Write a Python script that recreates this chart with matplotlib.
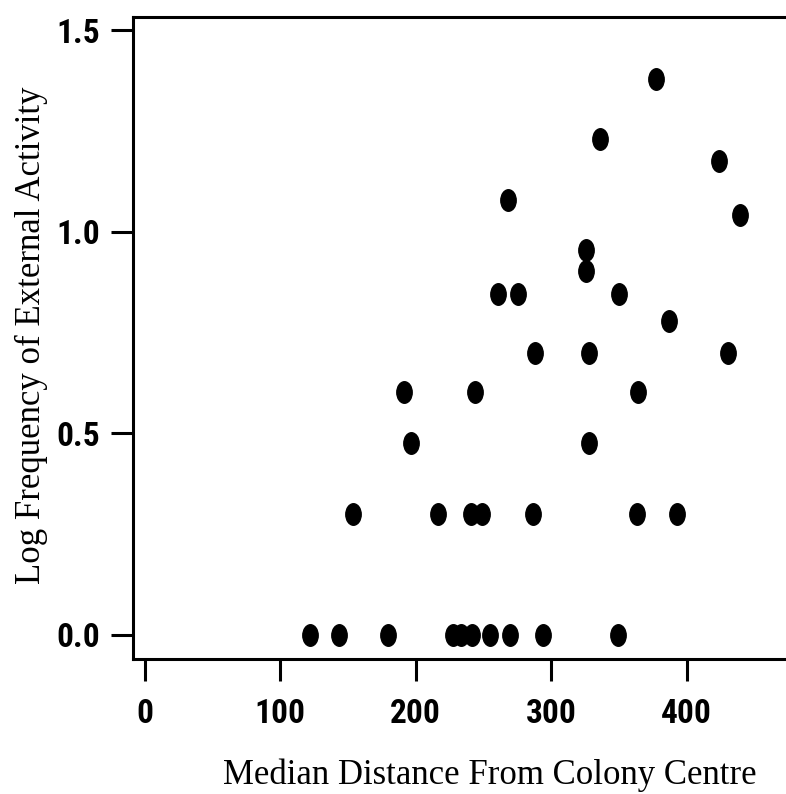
import numpy as np
import matplotlib
matplotlib.use("Agg")
import matplotlib.pyplot as plt
from matplotlib.path import Path
from matplotlib.transforms import Affine2D

# Median distance from colony centre vs log10 frequency of external activity
distance = [122, 143.5, 179.7, 227.8, 233.6, 241.7, 255, 269.7, 294, 349.4,
            153.9, 216.6, 241, 249, 287, 363.5, 393,
            196.7, 328,
            191.5, 244, 364,
            288, 328, 430.6,
            387,
            261, 275.6, 350,
            326,
            326,
            439.5,
            268,
            424,
            336,
            377.5]
frequency = [1] * 10 + [2] * 7 + [3] * 2 + [4] * 3 + [5] * 3 + [6] + [7] * 3 + \
            [8, 9, 11, 12, 15, 17, 24]
log_freq = np.log10(frequency)

xticks = [0, 100, 200, 300, 400]
yticks = [0.0, 0.5, 1.0, 1.5]
ytick_labels = ["0.0", "0.5", "1.0", "1.5"]

W, H = 786, 794
fig = plt.figure(figsize=(W / 100, H / 100), dpi=100)
ax = fig.add_axes([133 / W, 1 - 659 / H, (786 - 133) / W, (659 - 17) / H])

# slightly tall ellipse markers like the scanned figure
ell = Path.unit_circle().transformed(Affine2D().scale(1, 1.4))
ax.plot(distance, log_freq, linestyle="none", marker=ell, markersize=15.5,
        color="black")

ax.set_xlim(-8.5, 473.4)
ax.set_ylim(-0.0596, 1.533)
ax.spines["right"].set_visible(False)
for s in ["left", "top", "bottom"]:
    ax.spines[s].set_linewidth(2.2)

tick_font = dict(family=["Roboto Condensed", "Open Sans Condensed", "DejaVu Sans"],
                 size=24, weight="bold", stretch="condensed")
ax.set_xticks(xticks)
ax.set_xticklabels([str(t) for t in xticks], **tick_font)
ax.set_yticks(yticks)
ax.set_yticklabels(ytick_labels, **tick_font)
ax.tick_params(axis="x", length=16, width=2.2, pad=12)
ax.tick_params(axis="y", length=16, width=2.2, pad=8)

label_font = dict(family=["Liberation Serif", "DejaVu Serif"], size=25)
fig.text(490 / W, 1 - 775 / H, "Median Distance From Colony Centre",
         ha="center", va="center", **label_font)
fig.text(31 / W, 1 - 335 / H, "Log Frequency of External Activity",
         ha="center", va="center", rotation=90, **label_font)

fig.savefig("out.png", dpi=100)
